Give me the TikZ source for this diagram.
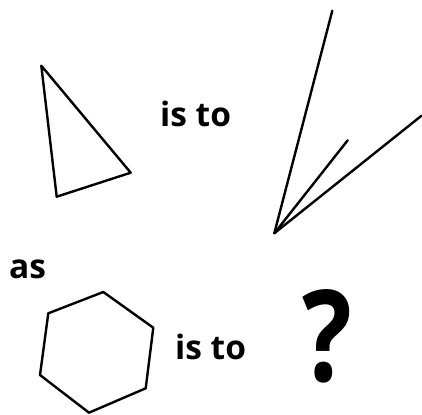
\documentclass[tikz,border=0pt]{standalone}
\usepackage{fontspec}
\setmainfont{Open Sans}
\begin{document}
\begin{tikzpicture}[x=1pt,y=-1pt,
  figline/.style={line width=2.4pt, line join=round, line cap=round},
  lbl/.style={inner sep=0pt, anchor=base west, font=\fontsize{33.5}{38}\selectfont\bfseries}]
\useasboundingbox (0,0) rectangle (422,414);
% triangle
\coordinate (t1) at (41.3,65.7);
\coordinate (t2) at (130.7,172.7);
\coordinate (t3) at (56.7,196.7);
\draw[figline] (t1) -- (t2) -- (t3) -- cycle;
% angle figure
\coordinate (apex) at (274.3,233.3);
\coordinate (a1) at (332.3,10.7);
\coordinate (a2) at (347.7,140.3);
\coordinate (a3) at (421.5,115.7);
\draw[figline] (a1) -- (apex) -- (a3);
\draw[figline] (apex) -- (a2);
% hexagon
\coordinate (h1) at (103.3,292);
\coordinate (h2) at (153.3,327.7);
\coordinate (h3) at (145.7,388.3);
\coordinate (h4) at (89,412.7);
\coordinate (h5) at (40,375);
\coordinate (h6) at (48.3,313.3);
\draw[figline] (h1) -- (h2) -- (h3) -- (h4) -- (h5) -- (h6) -- cycle;
% texts
\node[lbl] (isto1) at (160,126.7) {is to};
\node[lbl] (as) at (9,278.3) {as};
\node[lbl] (isto2) at (175,359.3) {is to};
\node[inner sep=0pt, anchor=base west, xscale=0.82, font=\fontsize{127}{132}\selectfont\bfseries] (q) at (302,381) {?};
\end{tikzpicture}
\end{document}
